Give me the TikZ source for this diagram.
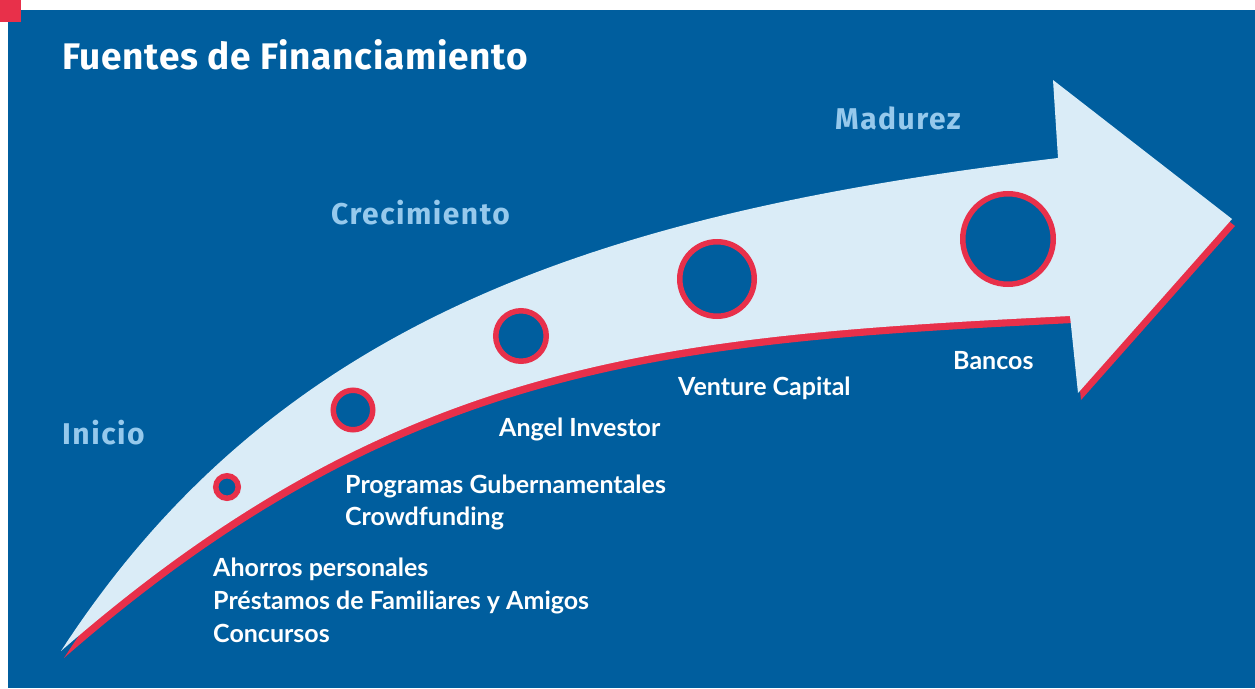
\documentclass[tikz,border=0pt]{standalone}
\usepackage{fontspec}
\newfontfamily\titlefont{Fira Sans}[UprightFont=* Bold, LetterSpace=2]
\newfontfamily\stagefont{Fira Sans}[UprightFont=* Bold, LetterSpace=5]
\newfontfamily\labelfont{Lato}[UprightFont=* Bold]
\definecolor{bgblue}{RGB}{0,94,158}
\definecolor{arrowlight}{RGB}{218,236,247}
\definecolor{accentred}{RGB}{232,48,74}
\definecolor{stageblue}{RGB}{150,201,236}
\tikzset{
  ring/.style={circle, draw=accentred, fill=bgblue, line width=5.5pt, inner sep=0pt},
  stagelabel/.style={anchor=base west, inner sep=0pt, text=stageblue, font=\stagefont\fontsize{30}{30}\selectfont},
  sourcelabel/.style={anchor=base west, inner sep=0pt, text=white, font=\labelfont\fontsize{25}{25}\selectfont},
}
\begin{document}
\begin{tikzpicture}[x=1pt,y=-1pt]
\useasboundingbox (0,0) rectangle (1255,688);
\fill[white] (0,0) rectangle (1255,688);
\fill[bgblue] (8,10) rectangle (1255,688);
\fill[accentred] (0,0) rectangle (21,22);
% red shadow of arrow
\fill[accentred, shift={(3,7)}] (61,651) .. controls (279,315) and (608,212) .. (1058,158) -- (1053,80) -- (1232,219) -- (1078,393) -- (1070,316) .. controls (670,336) and (400,355) .. (61,651) -- cycle;
% arrow
\fill[arrowlight] (61,651) .. controls (279,315) and (608,212) .. (1058,158) -- (1053,80) -- (1232,219) -- (1078,393) -- (1070,316) .. controls (670,336) and (400,355) .. (61,651) -- cycle;
% circles
\node[ring, minimum size=22.5pt] (c1) at (227,487) {};
\node[ring, minimum size=39.5pt] (c2) at (353,410) {};
\node[ring, minimum size=50.5pt] (c3) at (521,336) {};
\node[ring, minimum size=74.5pt] (c4) at (717,279) {};
\node[ring, minimum size=90.5pt] (c5) at (1008,239) {};
% texts
\node[anchor=base west, inner sep=0pt, text=white, font=\titlefont\fontsize{37}{37}\selectfont] (title) at (62,69) {Fuentes de Financiamiento};
\node[stagelabel] (inicio) at (62,444) {Inicio};
\node[stagelabel] (crec) at (331,224) {Crecimiento};
\node[stagelabel] (madurez) at (835,129) {Madurez};
\node[sourcelabel] (s1a) at (213,576) {Ahorros personales};
\node[sourcelabel] (s1b) at (213,609) {Préstamos de Familiares y Amigos};
\node[sourcelabel] (s1c) at (213,642) {Concursos};
\node[sourcelabel] (s2a) at (345,493) {Programas Gubernamentales};
\node[sourcelabel] (s2b) at (345,525) {Crowdfunding};
\node[sourcelabel] (s3) at (499,436) {Angel Investor};
\node[sourcelabel] (s4) at (678,395) {Venture Capital};
\node[sourcelabel] (s5) at (953,369) {Bancos};
\end{tikzpicture}
\end{document}
